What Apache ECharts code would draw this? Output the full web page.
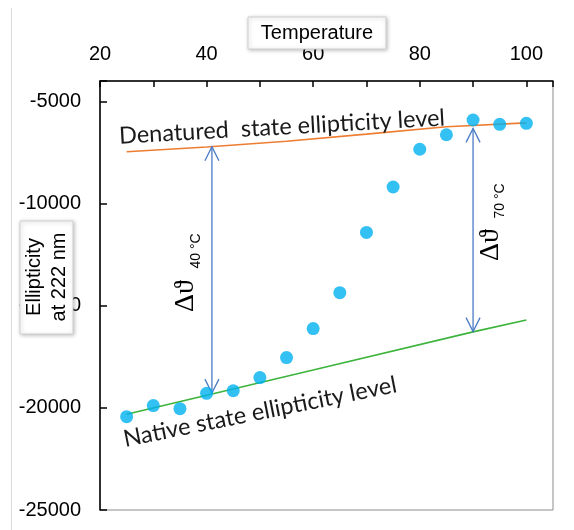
<!DOCTYPE html>
<html>
<head>
<meta charset="utf-8">
<script src="https://cdn.jsdelivr.net/npm/echarts@6/dist/echarts.min.js"></script>
<style>
html, body { margin: 0; padding: 0; background: #fff; }
#chart { width: 574px; height: 530px; }
</style>
</head>
<body>
<div id="chart"></div>
<script>
// measured points
const temperatures = [25, 30, 35, 40, 45, 50, 55, 60, 65, 70, 75, 80, 85, 90, 95, 100]
const ellipticity = [-20430, -19890, -20040, -19290, -19160, -18520, -17540, -16120, -14360, -11410, -9190, -7340, -6630, -5910, -6120, -6070]

// baselines drawn by hand in the original
const denaturedT = [25, 40, 55, 70, 85, 100]
const denaturedLevel = [-7460, -7230, -6950, -6600, -6240, -6050]
const nativeT = [25, 60, 90, 100]
const nativeLevel = [-20310, -18150, -16280, -15700]

// double arrows (delta theta)
const arrowT = [41, 90]
const arrowTop = [-7215, -6320]
const arrowBottom = [-19280, -16270]

const xTicks = [20, 40, 60, 80, 100]
const yTicks = [-5000, -10000, -15000, -20000, -25000]

const chart = echarts.init(document.getElementById("chart"))

const pairs = (xs, ys) => xs.map((x, i) => [x, ys[i]])

const arrowRender = (params, api) => {
  const top = api.coord([api.value(0), api.value(1)])
  const bot = api.coord([api.value(0), api.value(2)])
  const h = 7
  const l = 14
  const style = { stroke: "#4a7bc4", lineWidth: 1.3, fill: null }
  return {
    type: "group",
    children: [
      { type: "line", shape: { x1: top[0], y1: top[1], x2: bot[0], y2: bot[1] }, style },
      { type: "polyline", shape: { points: [[top[0] - h, top[1] + l], top, [top[0] + h, top[1] + l]] }, style },
      { type: "polyline", shape: { points: [[bot[0] - h, bot[1] - l], bot, [bot[0] + h, bot[1] - l]] }, style }
    ]
  }
}

const labelFont = "Liberation Sans, Arial, sans-serif"
const noteFont = "Lato, Carlito, sans-serif"
const greekFont = "28px Liberation Serif, DejaVu Serif, serif"

chart.setOption({
  animation: false,
  grid: { left: 100, right: 21, top: 81, bottom: 20, show: true, borderColor: "#8c8c8c", borderWidth: 1 },
  xAxis: {
    type: "value",
    position: "top",
    min: 20,
    max: 105,
    interval: 10,
    axisLine: { show: true, lineStyle: { color: "#000", width: 1.5 } },
    axisTick: { inside: true, length: 6, lineStyle: { color: "#000", width: 1.5 } },
    axisLabel: {
      margin: 17,
      fontSize: 20,
      fontFamily: labelFont,
      color: "#000",
      formatter: (v) => (xTicks.includes(v) ? String(v) : "")
    },
    splitLine: { show: false }
  },
  yAxis: {
    type: "value",
    min: -25000,
    max: -4000,
    interval: 5000,
    axisLine: { show: true, lineStyle: { color: "#000", width: 1.5 } },
    axisTick: { inside: true, length: 7, lineStyle: { color: "#000", width: 1.5 } },
    axisLabel: {
      margin: 19,
      fontSize: 20,
      fontFamily: labelFont,
      color: "#000",
      formatter: (v) => (yTicks.includes(v) ? String(v) : "")
    },
    splitLine: { show: false }
  },
  series: [
    {
      name: "Denatured state ellipticity level",
      type: "line",
      data: pairs(denaturedT, denaturedLevel),
      showSymbol: false,
      lineStyle: { color: "#ed7d31", width: 1.6 },
      z: 2
    },
    {
      name: "Native state ellipticity level",
      type: "line",
      data: pairs(nativeT, nativeLevel),
      showSymbol: false,
      lineStyle: { color: "#3cb43c", width: 1.6 },
      z: 2
    },
    {
      name: "delta",
      type: "custom",
      data: arrowT.map((t, i) => [t, arrowTop[i], arrowBottom[i]]),
      encode: { x: 0, y: [1, 2] },
      renderItem: arrowRender,
      z: 3
    },
    {
      name: "Ellipticity",
      type: "scatter",
      data: pairs(temperatures, ellipticity),
      symbolSize: 13,
      itemStyle: { color: "#00b0f0" },
      z: 4
    }
  ],
  graphic: [
    // frame line at the far left
    { type: "line", shape: { x1: 11.5, y1: 8, x2: 11.5, y2: 530 }, style: { stroke: "#d9d9d9", lineWidth: 1 }, z: 1 },
    // axis title boxes
    {
      type: "rect",
      shape: { x: 248, y: 17, width: 138, height: 32 },
      style: { fill: "#fff", stroke: "#d0d0d0", lineWidth: 1, shadowBlur: 4, shadowColor: "rgba(0,0,0,0.25)", shadowOffsetX: 1, shadowOffsetY: 1 },
      z: 50
    },
    {
      type: "text",
      x: 317,
      y: 33,
      style: { text: "Temperature", font: "20px " + labelFont, fill: "#000", align: "center", verticalAlign: "middle" },
      z: 51
    },
    {
      type: "rect",
      shape: { x: 20, y: 221, width: 53, height: 113 },
      style: { fill: "#fff", stroke: "#d0d0d0", lineWidth: 1, shadowBlur: 4, shadowColor: "rgba(0,0,0,0.25)", shadowOffsetX: 1, shadowOffsetY: 1 },
      z: 50
    },
    {
      type: "text",
      x: 47,
      y: 277,
      rotation: Math.PI / 2,
      style: { text: "Ellipticity\nat 222 nm", font: "20px " + labelFont, lineHeight: 25, fill: "#000", align: "center", verticalAlign: "middle" },
      z: 51
    },
    // level notes
    {
      type: "text",
      x: 282,
      y: 127,
      rotation: 3.2 * Math.PI / 180,
      style: { text: "Denatured  state ellipticity level", font: "23.5px " + noteFont, fill: "#1a1a1a", align: "center", verticalAlign: "middle" },
      z: 20
    },
    {
      type: "text",
      x: 260,
      y: 412,
      rotation: 11.4 * Math.PI / 180,
      style: { text: "Native state ellipticity level", font: "23.5px " + noteFont, fill: "#1a1a1a", align: "center", verticalAlign: "middle" },
      z: 20
    },
    // delta theta notes
    {
      type: "text",
      x: 186,
      y: 296,
      rotation: Math.PI / 2,
      style: { text: "Δϑ", font: greekFont, fill: "#000", align: "center", verticalAlign: "middle" },
      z: 20
    },
    {
      type: "text",
      x: 196,
      y: 251,
      rotation: Math.PI / 2,
      style: { text: "40 °C", font: "14px " + labelFont, fill: "#000", align: "center", verticalAlign: "middle" },
      z: 20
    },
    {
      type: "text",
      x: 491,
      y: 245,
      rotation: Math.PI / 2,
      style: { text: "Δϑ", font: greekFont, fill: "#000", align: "center", verticalAlign: "middle" },
      z: 20
    },
    {
      type: "text",
      x: 500,
      y: 201,
      rotation: Math.PI / 2,
      style: { text: "70 °C", font: "14px " + labelFont, fill: "#000", align: "center", verticalAlign: "middle" },
      z: 20
    }
  ]
})
</script>
</body>
</html>
